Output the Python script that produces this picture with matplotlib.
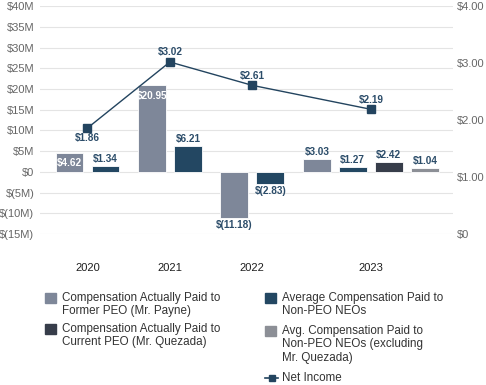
import matplotlib
matplotlib.use("Agg")
import matplotlib.pyplot as plt
from matplotlib.lines import Line2D
from matplotlib.patches import Rectangle

plt.rcParams["font.family"] = ["Liberation Sans", "DejaVu Sans"]

# data
years = ["2020", "2021", "2022", "2023"]
# each group: list of (series, value)
groups = [
    [("former", 4.62), ("neo", 1.34)],
    [("former", 20.95), ("neo", 6.21)],
    [("former", -11.18), ("neo", -2.83)],
    [("former", 3.03), ("neo", 1.27), ("current", 2.42), ("neo_ex", 1.04)],
]
net_income = [1.86, 3.02, 2.61, 2.19]

series_names = {
    "former": "Compensation Actually Paid to\nFormer PEO (Mr. Payne)",
    "current": "Compensation Actually Paid to\nCurrent PEO (Mr. Quezada)",
    "neo": "Average Compensation Paid to\nNon-PEO NEOs",
    "neo_ex": "Avg. Compensation Paid to\nNon-PEO NEOs (excluding\nMr. Quezada)",
    "net": "Net Income",
}
colors = {
    "former": "#7e8799",
    "neo": "#234762",
    "current": "#373d4a",
    "neo_ex": "#8c8f96",
}
line_color = "#23445f"
label_color = "#2b4c69"
inside_white = {(0, 0), (1, 0)}

W, H = 486, 385
fig = plt.figure(figsize=(W / 100, H / 100), dpi=100)
ax = fig.add_axes([0.082, 0.392, 0.85, 0.592])

gap = 0.29
x = 0.0
centers = []
for gi, grp in enumerate(groups):
    xs = []
    for bi, (key, val) in enumerate(grp):
        ax.bar(x, val, width=0.77, color=colors[key], edgecolor="white",
               linewidth=0.6, zorder=2)
        lab = f"${val:.2f}" if val >= 0 else f"$({abs(val):.2f})"
        if (gi, bi) in inside_white:
            ax.annotate(lab, (x, val), xytext=(0, -4), textcoords="offset points",
                        ha="center", va="top", color="white", fontsize=7.2,
                        fontweight="bold", zorder=4)
        elif val >= 0:
            ax.annotate(lab, (x, val), xytext=(0, 1.5), textcoords="offset points",
                        ha="center", va="bottom", color=label_color, fontsize=7.2,
                        fontweight="bold", zorder=4)
        else:
            ax.annotate(lab, (x, val), xytext=(0, -1.5), textcoords="offset points",
                        ha="center", va="top", color=label_color, fontsize=7.2,
                        fontweight="bold", zorder=4)
        xs.append(x)
        x += 1
    centers.append((xs[0] + xs[-1]) / 2)
    x += gap

ax.set_xlim(-0.82, 10.65)
ax.set_ylim(-15, 40)
ax.set_yticks(range(-15, 41, 5))
ax.set_yticklabels([f"${v}M" if v > 0 else ("$0" if v == 0 else f"$({-v}M)")
                    for v in range(-15, 41, 5)])
ax.grid(axis="y", color="#e4e4e4", linewidth=0.8, zorder=0)
ax.set_axisbelow(True)
ax.set_xticks(centers)
ax.set_xticklabels(years)
ax.tick_params(axis="x", length=0, pad=21, labelsize=8, labelcolor="#1e1e1e")
ax.tick_params(axis="y", length=0, pad=4, labelsize=8, labelcolor="#666666")
for s in ax.spines.values():
    s.set_visible(False)

ax2 = ax.twinx()
ax2.set_ylim(0, 4)
ax2.set_yticks([0, 1, 2, 3, 4])
ax2.set_yticklabels(["$0", "$1.00", "$2.00", "$3.00", "$4.00"])
ax2.tick_params(axis="y", length=0, pad=3, labelsize=8, labelcolor="#666666")
for s in ax2.spines.values():
    s.set_visible(False)
ax2.plot(centers, net_income, color=line_color, linewidth=1, marker="s",
         markersize=6, zorder=5)
for i, (cx, v) in enumerate(zip(centers, net_income)):
    dy = -7 if i == 0 else 7
    ax2.annotate(f"${v:.2f}", (cx, v), xytext=(0, dy), textcoords="offset points",
                 ha="center", va="center", color=label_color, fontsize=7.2,
                 fontweight="bold")

# legend drawn by hand so the swatch sits on the first text line
legend_cols = [
    (45, [("former", 298), ("current", 329)]),
    (265, [("neo", 298), ("neo_ex", 331), ("net", 378)]),
]
for x0, entries in legend_cols:
    for key, yc in entries:
        if key == "net":
            fig.add_artist(Line2D([x0 / W, (x0 + 13) / W],
                                  [1 - yc / H, 1 - yc / H], color=line_color,
                                  linewidth=1.2, transform=fig.transFigure))
            fig.add_artist(Line2D([(x0 + 6.5) / W], [1 - yc / H], color=line_color,
                                  marker="s", markersize=5, linestyle="none",
                                  transform=fig.transFigure))
        else:
            fig.add_artist(Rectangle((x0 / W, 1 - (yc + 5) / H), 11 / W, 10 / H,
                                     color=colors[key], transform=fig.transFigure))
        fig.text((x0 + 17) / W, 1 - (yc - 6) / H, series_names[key],
                 ha="left", va="top", fontsize=8.4, color="#333333",
                 linespacing=1.15)

fig.savefig("out.png", dpi=100)
